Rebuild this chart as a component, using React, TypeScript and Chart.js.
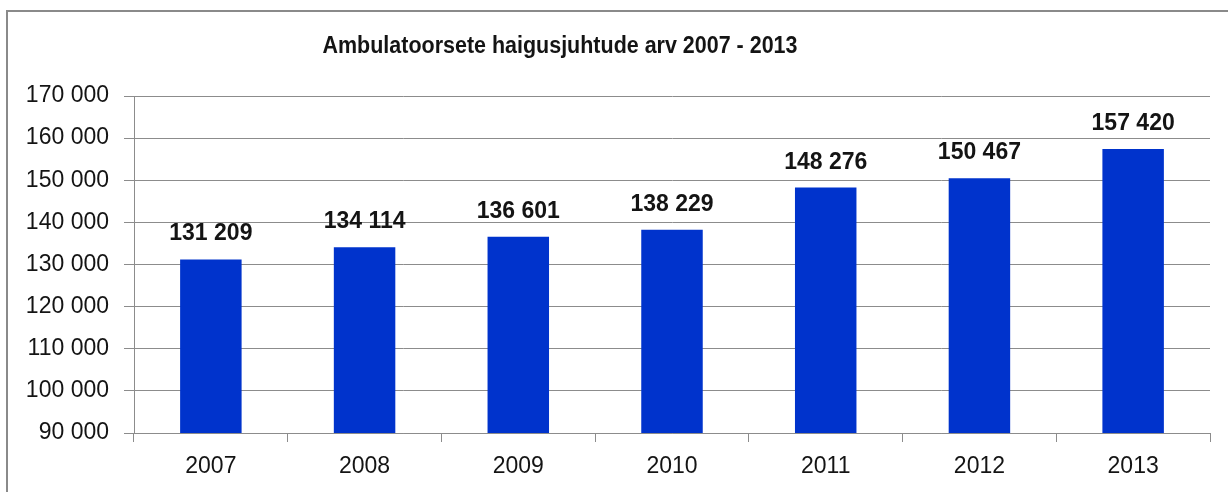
import React, { useEffect, useRef } from "react";
import { Chart, registerables } from "chart.js";

Chart.register(...registerables);

const TITLE = "Ambulatoorsete haigusjuhtude arv 2007 - 2013";
const categories = ["2007", "2008", "2009", "2010", "2011", "2012", "2013"];
const values = [131209, 134114, 136601, 138229, 148276, 150467, 157420];
const yMin = 90000;
const yMax = 170000;
const yStep = 10000;

const fmt = (v: number) => String(Math.round(v)).replace(/\B(?=(\d{3})+(?!\d))/g, " ");

const FONT = "'Liberation Sans', Arial, sans-serif";
const GRID = "#8c8c8c";
const TEXT = "#141414";

const decorPlugin = {
  id: "decor",
  beforeDraw(chart: any) {
    const ctx = chart.ctx;
    ctx.save();
    ctx.fillStyle = "#ffffff";
    ctx.fillRect(0, 0, chart.width, chart.height);
    ctx.strokeStyle = "#8a8a8a";
    ctx.lineWidth = 2;
    ctx.strokeRect(7, 11, 1400, 700);
    ctx.fillStyle = TEXT;
    ctx.font = `bold 23px ${FONT}`;
    ctx.textAlign = "center";
    ctx.textBaseline = "alphabetic";
    const w = ctx.measureText(TITLE).width;
    const sx = Math.min(1, 475 / w);
    ctx.translate(560, 53);
    ctx.scale(sx, 1);
    ctx.fillText(TITLE, 0, 0);
    ctx.restore();
  },
  afterDatasetsDraw(chart: any) {
    const ctx = chart.ctx;
    const meta = chart.getDatasetMeta(0);
    ctx.save();
    ctx.fillStyle = TEXT;
    ctx.font = `bold 23px ${FONT}`;
    ctx.textAlign = "center";
    ctx.textBaseline = "alphabetic";
    meta.data.forEach((bar: any, i: number) => {
      ctx.fillText(fmt(values[i]), bar.x, bar.y - 19);
    });
    ctx.restore();
  },
};

export default function App() {
  const ref = useRef<HTMLCanvasElement>(null);
  useEffect(() => {
    if (!ref.current) return;
    const chart = new Chart(ref.current, {
      type: "bar",
      data: {
        labels: categories,
        datasets: [
          {
            data: values,
            backgroundColor: "#0033cc",
            borderWidth: 0,
            barPercentage: 0.4,
            categoryPercentage: 1,
          },
        ],
      },
      options: {
        animation: false,
        responsive: false,
        layout: { padding: { top: 96, left: 0, right: 18, bottom: 0 } },
        plugins: { legend: { display: false }, tooltip: { enabled: false }, title: { display: false } },
        scales: {
          x: {
            offset: true,
            grid: { offset: true, drawOnChartArea: false, drawTicks: true, tickLength: 9, color: GRID, lineWidth: 1 },
            border: { display: true, color: GRID, width: 1 },
            ticks: { color: TEXT, font: { family: FONT, size: 23 }, padding: 11 },
            afterFit: (s: any) => { s.height = 59; },
          },
          y: {
            min: yMin,
            max: yMax,
            grid: { color: GRID, lineWidth: 1, tickLength: 10, drawTicks: true },
            border: { display: true, color: GRID, width: 1 },
            ticks: {
              stepSize: yStep,
              color: TEXT,
              font: { family: FONT, size: 23 },
              padding: 15,
              callback: (v: any) => fmt(Number(v)),
            },
            afterFit: (s: any) => { s.width = 134; },
          },
        },
      },
      plugins: [decorPlugin],
    });
    return () => chart.destroy();
  }, []);
  return (
    <div style={{ position: "fixed", left: 0, top: 0, width: 1228, height: 492, background: "#fff" }}>
      <canvas ref={ref} width={1228} height={492} style={{ display: "block" }} />
    </div>
  );
}
